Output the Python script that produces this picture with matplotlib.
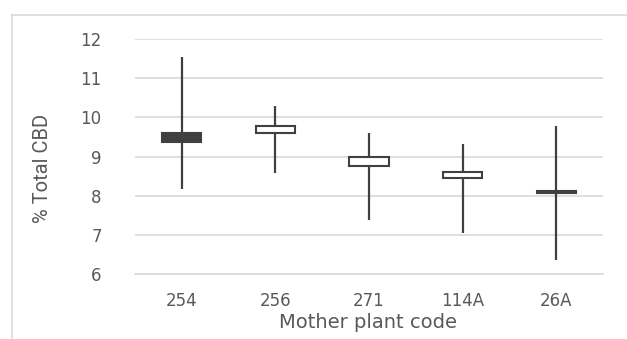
import numpy as np
import matplotlib.pyplot as plt
from matplotlib.lines import Line2D
from matplotlib import font_manager

# Excel-style stock chart: high-low lines with up/down bars
codes = ["254", "256", "271", "114A", "26A"]
high = [11.54, 10.30, 9.59, 9.31, 9.79]
low = [8.16, 8.59, 7.38, 7.04, 6.36]
open_ = [9.61, 9.61, 8.77, 8.45, 8.08]
close = [9.36, 9.78, 9.00, 8.60, 8.11]

DARK = "#404040"
GRID = "#d9d9d9"
TEXT = "#595959"

names = {f.name for f in font_manager.fontManager.ttflist}
tick_font = "DejaVu Sans"
ylab_font = "Liberation Sans Narrow" if "Liberation Sans Narrow" in names else "Roboto"

fig = plt.figure(figsize=(6.27, 3.39), dpi=100)
ax = fig.add_axes([135 / 627, 1 - 274 / 339, 468 / 627, 235 / 339])

x = np.arange(len(codes))
ax.vlines(x, low, high, color=DARK, lw=1.6, zorder=2)

lo = np.minimum(open_, close)
hgt = np.abs(np.array(close) - np.array(open_))
face = [DARK if c < o else "white" for o, c in zip(open_, close)]
ax.bar(x, hgt, bottom=lo, width=0.42, color=face, edgecolor=DARK,
       linewidth=1.5, zorder=3)

ax.set_xlim(-0.5, len(codes) - 0.5)
ax.set_ylim(6, 12)
ax.set_yticks(range(6, 13))
ax.set_xticks(x)
ax.set_xticklabels(codes)
ax.yaxis.grid(True, color=GRID, lw=1.2)
ax.set_axisbelow(True)
for s in ["top", "right", "left"]:
    ax.spines[s].set_visible(False)
ax.spines["bottom"].set_color(GRID)
ax.spines["bottom"].set_linewidth(1.2)
ax.tick_params(length=0, labelsize=12, labelcolor=TEXT)
ax.tick_params(axis="y", pad=24)
ax.tick_params(axis="x", pad=13)
for lab in ax.get_xticklabels() + ax.get_yticklabels():
    lab.set_fontfamily(tick_font)

fig.text(368 / 627, 1 - 328 / 339, "Mother plant code", ha="center",
         va="baseline", fontsize=14, color=TEXT, family=tick_font)
fig.text(43 / 627, 1 - 168 / 339, "% Total CBD", ha="center", va="center",
         rotation=90, fontsize=14.5, color=TEXT, family=ylab_font)

# light frame around chart area (top and left edges visible)
fig.add_artist(Line2D([12 / 627, 1], [1 - 15 / 339] * 2, color=GRID, lw=1.2,
                      transform=fig.transFigure))
fig.add_artist(Line2D([12 / 627] * 2, [0, 1 - 15 / 339], color=GRID, lw=1.2,
                      transform=fig.transFigure))

fig.savefig("out.png", dpi=100)
